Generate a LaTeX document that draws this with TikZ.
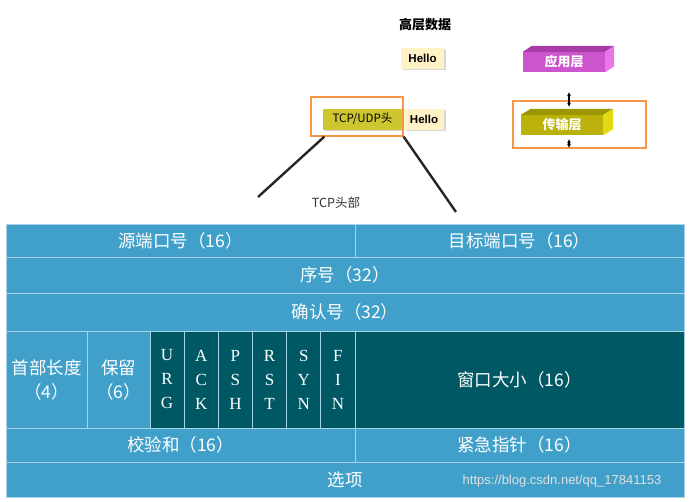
\documentclass[tikz,border=0pt]{standalone}
\usepackage{fontspec}
\setmainfont{Liberation Serif}
\setsansfont{Liberation Sans}
\newfontfamily\cjk{Noto Sans CJK SC}
\usetikzlibrary{arrows.meta}
\usetikzlibrary{shadows}

\definecolor{cellblue}{RGB}{64,160,202}
\definecolor{celldark}{RGB}{0,88,100}
\definecolor{gridline}{RGB}{165,212,232}
\definecolor{hellofill}{RGB}{255,242,198}
\definecolor{tcpfill}{RGB}{206,198,48}
\definecolor{framecol}{RGB}{244,150,70}
\definecolor{appmain}{RGB}{204,84,204}
\definecolor{apptop}{RGB}{168,60,168}
\definecolor{appside}{RGB}{232,118,232}
\definecolor{tptmain}{RGB}{186,178,10}
\definecolor{tpttop}{RGB}{156,150,0}
\definecolor{tptside}{RGB}{226,216,20}

\begin{document}
\begin{tikzpicture}[x=1pt,y=-1pt,
		cell/.style={draw=gridline, line width=0.8pt, fill=cellblue, anchor=north west,
			inner sep=0pt, outer sep=0pt, text=white, align=center,
			font=\cjk\fontsize{17.5}{24}\selectfont},
		flagcell/.style={cell, fill=celldark, font=\fontsize{17}{24}\selectfont},
		hellobox/.style={fill=hellofill, inner sep=0pt, minimum height=21pt,
			drop shadow={shadow xshift=1.5pt, shadow yshift=-1.5pt, fill=black!25, opacity=0.6},
			font=\sffamily\bfseries\fontsize{11.5}{13}\selectfont},
		layerbox/.style={inner sep=0pt, minimum width=82pt, minimum height=20pt, text=white,
			font=\cjk\bfseries\fontsize{13}{15}\selectfont},
		frame/.style={draw=framecol, line width=1.2pt, inner sep=0pt},
		fanline/.style={line width=2.4pt, black!85},
		updown/.style={line width=1.1pt, {Latex[length=4pt,width=4pt]}-{Latex[length=4pt,width=4pt]}}]

		\fill[white] (0,0) rectangle (692,501);
		\useasboundingbox (0,0) rectangle (692,501);

		\node[font=\cjk\bfseries\fontsize{13}{15}\selectfont] (upper) at (425,25) {高层数据};
		\node[hellobox, minimum width=43pt] (hello) at (422.5,58) {Hello};

		\node[hellobox, fill=tcpfill, minimum width=79pt, font=\cjk\fontsize{11.5}{13}\selectfont] (tcpbox) at (362.5,119) {TCP/UDP头};
		\node[hellobox, minimum width=40pt] (hellotwo) at (424,119) {Hello};
		\node[frame, minimum width=92pt, minimum height=39pt] (tcpframe) at (357,116.5) {};

		\coordinate (fanleft) at (258,197);
		\coordinate (fanright) at (456,212);
		\draw[fanline] ([xshift=14pt]tcpframe.south west) -- (fanleft);
		\draw[fanline] (tcpframe.south east) -- (fanright);
		\node[text=black!80, font=\cjk\fontsize{12.5}{14}\selectfont] (tcphead) at (336,203) {TCP头部};

		\node[layerbox, fill=appmain] (app) at (564,62) {应用层};
		\fill[apptop] (app.north west) -- ++(9,-6) -- ([shift={(9,-6)}]app.north east) -- (app.north east) -- cycle;
		\fill[appside] (app.north east) -- ++(9,-6) -- ([shift={(9,-6)}]app.south east) -- (app.south east) -- cycle;

		\node[layerbox, fill=tptmain] (tpt) at (562,125) {传输层};
		\fill[tpttop] (tpt.north west) -- ++(10,-6) -- ([shift={(10,-6)}]tpt.north east) -- (tpt.north east) -- cycle;
		\fill[tptside] (tpt.north east) -- ++(10,-6) -- ([shift={(10,-6)}]tpt.south east) -- (tpt.south east) -- cycle;
		\node[frame, minimum width=133pt, minimum height=47pt] (tptframe) at (579.5,124.5) {};

		\coordinate (uptop) at (569,92);
		\coordinate (upbot) at (569,107);
		\coordinate (downtop) at (569,139);
		\coordinate (downbot) at (569,148);
		\draw[updown] (uptop) -- (upbot);
		\draw[updown] (downtop) -- (downbot);

		\node[cell, minimum width=349pt, minimum height=33pt] (srcport) at (6,224) {源端口号（16）};
		\node[cell, minimum width=329pt, minimum height=33pt] (dstport) at (355,224) {目标端口号（16）};
		\node[cell, minimum width=678pt, minimum height=36pt] (seqnum) at (6,257) {序号（32）};
		\node[cell, minimum width=678pt, minimum height=38pt] (acknum) at (6,293) {确认号（32）};

		\node[cell, minimum width=81pt, minimum height=97pt] (hdrlen) at (6,331) {首部长度\\（4）};
		\node[cell, minimum width=63pt, minimum height=97pt] (reserved) at (87,331) {保留\\（6）};
		\foreach \flg [count=\i] in {U\\R\\G, A\\C\\K, P\\S\\H, R\\S\\T, S\\Y\\N, F\\I\\N}
			\node[flagcell, minimum width=34.17pt, minimum height=97pt] (flag\i) at ({150+34.17*(\i-1)},331) {\flg};
		\node[cell, fill=celldark, minimum width=329pt, minimum height=97pt] (window) at (355,331) {窗口大小（16）};

		\node[cell, minimum width=349pt, minimum height=34pt] (checksum) at (6,428) {校验和（16）};
		\node[cell, minimum width=329pt, minimum height=34pt] (urgent) at (355,428) {紧急指针（16）};
		\node[cell, minimum width=678pt, minimum height=35pt] (options) at (6,462) {选项};

		\node[text=white!88!black, font=\sffamily\fontsize{13}{15}\selectfont] (mark) at (562,481) {https://blog.csdn.net/qq\_17841153};
	\end{tikzpicture}
\end{document}
